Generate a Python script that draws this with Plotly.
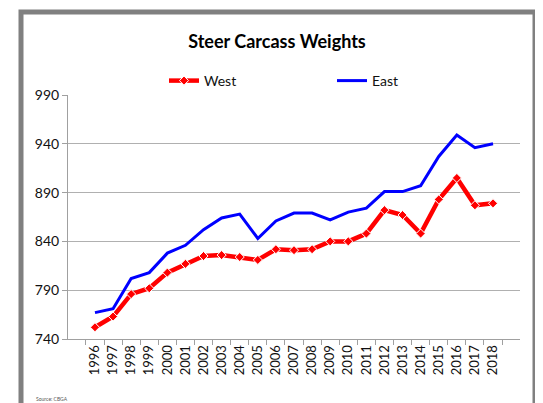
import plotly.graph_objects as go

years = [str(y) for y in range(1996, 2019)]
west = [752, 763, 786, 792, 808, 817, 825, 826, 824, 821, 832, 831, 832, 840, 840, 848, 872, 867, 848, 883, 905, 877, 879]
east = [767, 771, 802, 808, 828, 836, 852, 864, 868, 843, 861, 869, 869, 862, 870, 874, 891, 891, 897, 927, 949, 936, 940]

OFF = 8  # default page body margin
W, H = 543 - OFF, 403 - OFF
# target screen positions of plot area
SL, SR, ST, SB = 68, 520, 95, 339
L, T = SL - OFF, ST - OFF
R = W - (SR - OFF)
B = H - (SB - OFF)
pw, ph = W - L - R, H - T - B

def px_x(p):  # screen pixel -> paper x
    return (p - OFF - L) / pw

def px_y(p):  # screen pixel -> paper y
    return (H - B - (p - OFF)) / ph

font_family = "Lato, 'Open Sans', sans-serif"

fig = go.Figure()
fig.add_trace(go.Scatter(
    x=years, y=west, name="West", mode="lines+markers",
    line=dict(color="#FF0000", width=4.5),
    marker=dict(symbol="diamond", size=7, color="#FF0000", line=dict(color="white", width=1)),
))
fig.add_trace(go.Scatter(
    x=years, y=east, name="East", mode="lines",
    line=dict(color="#0000FF", width=3),
))

fig.update_layout(
    width=W, height=H,
    margin=dict(l=L, r=R, t=T, b=B, pad=0),
    paper_bgcolor="white", plot_bgcolor="white",
    font=dict(family=font_family, color="#111111", size=13),
    title=dict(text="<b>Steer Carcass Weights</b>", x=(277 - OFF) / W, xanchor="center",
               y=1 - (42 - OFF) / H, yanchor="middle", xref="container", yref="container",
               font=dict(size=18, color="black", family=font_family)),
    showlegend=True,
    legend=dict(orientation="h", x=px_x(164), xanchor="left", y=px_y(81), yanchor="middle",
                entrywidth=123, entrywidthmode="pixels",
                font=dict(size=14, color="#111111"), bgcolor="rgba(0,0,0,0)",
                itemwidth=30, traceorder="normal"),
    xaxis=dict(type="category", tickangle=-90, tickson="boundaries", ticks="outside",
               ticklen=5, tickcolor="#a0a0a0", showline=True, linecolor="#a0a0a0",
               showgrid=False, tickfont=dict(size=13, color="#111111"), fixedrange=True),
    yaxis=dict(range=[740, 990], dtick=50, tick0=740, ticks="outside", ticklen=5,
               tickcolor="#a0a0a0", showline=True, linecolor="#a0a0a0",
               showgrid=True, gridcolor="#b0b0b0", gridwidth=1,
               tickfont=dict(size=14, color="#111111"), zeroline=False, fixedrange=True),
    shapes=[dict(type="rect", xref="paper", yref="paper",
                 x0=px_x(21), x1=px_x(535), y0=px_y(420), y1=px_y(12),
                 line=dict(color="#808080", width=5), fillcolor="rgba(0,0,0,0)", layer="below")],
    annotations=[dict(text="Source: CBGA", xref="paper", yref="paper",
                      x=px_x(34), y=px_y(399), xanchor="left", yanchor="middle",
                      showarrow=False, font=dict(size=5, color="#555555"))],
)

fig.write_html("out.html")
